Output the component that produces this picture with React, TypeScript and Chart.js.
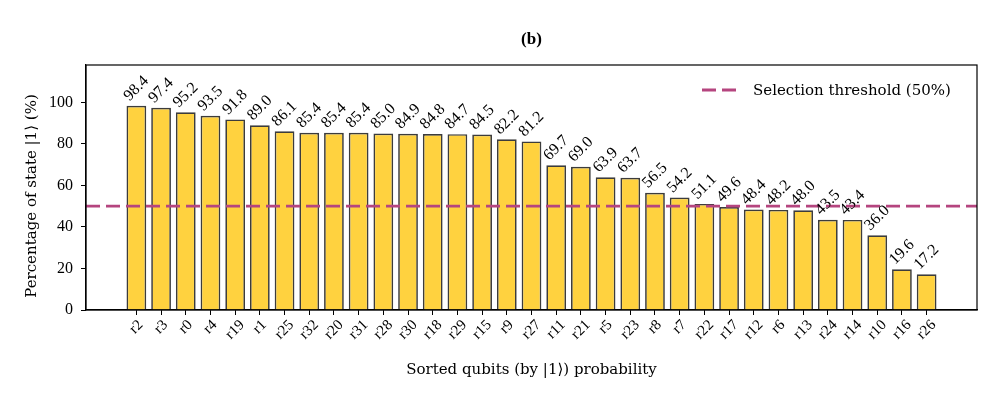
import React, { useEffect, useRef } from "react";
import { Chart, registerables } from "chart.js";

Chart.register(...registerables);

const categories = ["r2","r3","r0","r4","r19","r1","r25","r32","r20","r31","r28","r30","r18","r29","r15","r9","r27","r11","r21","r5","r23","r8","r7","r22","r17","r12","r6","r13","r24","r14","r10","r16","r26"];
const percentages = [98.4,97.4,95.2,93.5,91.8,89.0,86.1,85.4,85.4,85.4,85.0,84.9,84.8,84.7,84.5,82.2,81.2,69.7,69.0,63.9,63.7,56.5,54.2,51.1,49.6,48.4,48.2,48.0,43.5,43.4,36.0,19.6,17.2];
const yTicks = [0, 20, 40, 60, 80, 100];
const threshold = 50;
const titleText = "(b)";
const legendText = "Selection threshold (50%)";
const xTitle = "Sorted qubits (by |1\u27E9) probability";
const yTitle = "Percentage of state |1\u27E9 (%)";

const FONT = "'Liberation Serif', 'DejaVu Serif', serif";
const WIDE_FONT = "'DejaVu Serif', 'Liberation Serif', serif";
const BAR_FILL = "#FFD23F";
const BAR_EDGE = "#3C3C3C";
const LINE_COLOR = "#B5457F";

const xMin = -0.4 - 0.05 * (categories.length - 1 + 0.8);
const xMax = categories.length - 1 + 0.4 + 0.05 * (categories.length - 1 + 0.8);

const textPlugin = {
  id: "textPlugin",
  afterDraw(chart: any) {
    const ctx = chart.ctx;
    const area = chart.chartArea;
    const xs = chart.scales.x;
    const ys = chart.scales.y;
    ctx.save();
    // frame
    ctx.strokeStyle = "#000";
    ctx.lineWidth = 1.2;
    ctx.strokeRect(area.left, area.top, area.right - area.left, area.bottom - area.top);

    // title
    ctx.fillStyle = "#000";
    ctx.font = `bold 17px ${FONT}`;
    ctx.textAlign = "center";
    ctx.textBaseline = "middle";
    ctx.fillText(titleText, (area.left + area.right) / 2, 40);

    // y title
    ctx.save();
    ctx.translate(32, 196);
    ctx.rotate(-Math.PI / 2);
    ctx.font = `15px ${WIDE_FONT}`;
    ctx.textAlign = "center";
    ctx.textBaseline = "middle";
    ctx.fillText(yTitle, 0, 0);
    ctx.restore();

    const s = Math.SQRT1_2;
    // x tick labels
    ctx.font = `15px ${FONT}`;
    categories.forEach((c, i) => {
      const px = xs.getPixelForValue(i);
      const w = ctx.measureText(c).width;
      const h = (w + 12) * s;
      const cy = area.bottom + 8.5 + h / 2;
      ctx.save();
      ctx.translate(px, cy);
      ctx.rotate(-Math.PI / 4);
      ctx.textAlign = "center";
      ctx.textBaseline = "middle";
      ctx.fillText(c, 0, 0);
      ctx.restore();
    });

    // value labels
    ctx.font = `16px ${FONT}`;
    percentages.forEach((v, i) => {
      const label = v.toFixed(1);
      const px = xs.getPixelForValue(i);
      const top = ys.getPixelForValue(v);
      const w = ctx.measureText(label).width;
      const h = (w + 12) * s;
      const cy = top - 3 - h / 2;
      ctx.save();
      ctx.translate(px, cy);
      ctx.rotate(-Math.PI / 4);
      ctx.textAlign = "center";
      ctx.textBaseline = "middle";
      ctx.fillText(label, 0, 0);
      ctx.restore();
    });

    // legend
    ctx.strokeStyle = LINE_COLOR;
    ctx.lineWidth = 2.8;
    ctx.setLineDash([14, 6]);
    ctx.beginPath();
    ctx.moveTo(702, 90);
    ctx.lineTo(736, 90);
    ctx.stroke();
    ctx.setLineDash([]);
    ctx.fillStyle = "#000";
    ctx.font = `15px ${WIDE_FONT}`;
    ctx.textAlign = "left";
    ctx.textBaseline = "middle";
    ctx.fillText(legendText, 753, 91);
    ctx.restore();
  },
};

export default function App() {
  const ref = useRef<HTMLCanvasElement>(null);
  useEffect(() => {
    if (!ref.current) return;
    const chart = new Chart(ref.current, {
      type: "bar",
      data: {
        datasets: [
          {
            type: "line",
            data: [
              { x: xMin, y: threshold },
              { x: xMax, y: threshold },
            ],
            borderColor: LINE_COLOR,
            borderWidth: 2.8,
            borderDash: [14, 6],
            pointRadius: 0,
            order: 0,
          } as any,
          {
            type: "bar",
            data: percentages.map((v, i) => ({ x: i, y: v })),
            backgroundColor: BAR_FILL,
            borderColor: BAR_EDGE,
            borderWidth: 1.7,
            barPercentage: 0.8,
            categoryPercentage: 1.0,
            order: 1,
          } as any,
        ],
      },
      options: {
        responsive: false,
        animation: false,
        devicePixelRatio: 1,
        layout: { padding: { top: 65, right: 20, left: 0, bottom: 0 } },
        plugins: {
          legend: { display: false },
          tooltip: { enabled: false },
          title: { display: false },
        },
        scales: {
          x: {
            type: "linear",
            min: xMin,
            max: xMax,
            offset: false,
            afterBuildTicks: (s: any) => {
              s.ticks = categories.map((_, i) => ({ value: i }));
            },
            afterFit: (s: any) => {
              s.height = 89;
            },
            ticks: { display: false },
            grid: {
              display: true,
              offset: false,
              drawOnChartArea: false,
              drawTicks: true,
              tickLength: 5,
              color: "#000",
              lineWidth: 1,
            },
            border: { display: true, color: "#000", width: 1.2 },
            title: {
              display: true,
              text: xTitle,
              color: "#000",
              font: { family: WIDE_FONT, size: 15 },
              padding: { top: 0, bottom: 20 },
            },
          },
          y: {
            type: "linear",
            min: 0,
            max: 118,
            afterBuildTicks: (s: any) => {
              s.ticks = yTicks.map((v) => ({ value: v }));
            },
            afterFit: (s: any) => {
              s.width = 86;
            },
            ticks: {
              color: "#000",
              font: { family: FONT, size: 16 },
              padding: 8,
            },
            grid: {
              display: true,
              drawOnChartArea: false,
              drawTicks: true,
              tickLength: 5,
              color: "#000",
              lineWidth: 1,
            },
            border: { display: true, color: "#000", width: 1.2 },
            title: { display: false },
          },
        },
      },
      plugins: [textPlugin],
    } as any);
    return () => chart.destroy();
  }, []);
  return (
    <div style={{ position: "absolute", left: 0, top: 0, width: 997, height: 399, background: "#fff" }}>
      <canvas ref={ref} width={997} height={399} />
    </div>
  );
}
